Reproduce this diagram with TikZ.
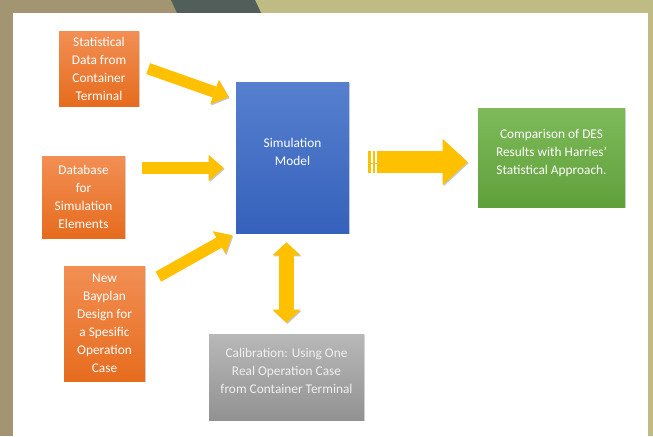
\documentclass[tikz,border=0pt]{standalone}
\usepackage{fontspec}
\setmainfont{Carlito}
\usetikzlibrary{%
  calc,arrows.meta,shadows}
\definecolor{frametan}{RGB}{163,149,113}
\definecolor{frameslate}{RGB}{82,94,90}
\definecolor{framekhaki}{RGB}{191,187,133}
\definecolor{orangetop}{RGB}{242,143,84}
\definecolor{orangebot}{RGB}{230,108,30}
\definecolor{bluetop}{RGB}{86,128,206}
\definecolor{bluebot}{RGB}{54,97,188}
\definecolor{greentop}{RGB}{126,186,90}
\definecolor{greenbot}{RGB}{96,160,58}
\definecolor{graytop}{RGB}{184,184,184}
\definecolor{graybot}{RGB}{146,146,146}
\definecolor{arrowyellow}{RGB}{255,192,0}
\tikzset {
  box/.style={inner sep=2pt,align=center,text=white,
    font=\fontsize{10}{13.5}\selectfont,
    drop shadow={shadow xshift=.8pt,shadow yshift=-1pt,opacity=.3}},
  orangebox/.style={box,top color=orangetop,bottom color=orangebot},
  bluebox/.style={box,top color=bluetop,bottom color=bluebot,
    text depth=8.5pt},
  greenbox/.style={box,top color=greentop,bottom color=greenbot,
    text depth=8.5pt},
  graybox/.style={box,top color=graytop,bottom color=graybot,
    text=white!94!black,text depth=8.5pt},
  arrowshadow/.style={preaction={draw=black!22,
    transform canvas={shift={(.7pt,-.9pt)}}}},
  feed/.style={arrowyellow,line width=8.6pt,arrowshadow,
    -{Triangle[length=11.25pt,width=19.5pt,line width=0pt 0]}},
  both/.style={arrowyellow,line width=11pt,arrowshadow,
    {Triangle[length=9.75pt,width=21pt,line width=0pt 0]}-%
    {Triangle[length=9.75pt,width=21pt,line width=0pt 0]}},
  result/.style={arrowyellow,line width=16.5pt,arrowshadow,
    dash pattern=on 1.9pt off 1.3pt on 2pt off 1.3pt on 200pt off 1pt,
    -{Triangle[length=18.75pt,width=34.5pt,line width=0pt 0]}}}

\begin{document}
\begin{tikzpicture}[x=0.75pt,y=-0.75pt]
\useasboundingbox (0,0) rectangle (653,436);
\fill[frametan] (0,0) rectangle (653,436);
\fill[framekhaki] (255,0) -- (653,0) -- (653,436) -- (648,436)
  -- (648,13) -- (261,13) -- cycle;
\fill[frameslate] (171,0) -- (255,0) -- (261,13) -- (177,13) -- cycle;
\fill[white] (12.5,13) rectangle (648,436);
\node[orangebox,minimum width=60pt,minimum height=56.25pt] (stat)
  at (99,68.5) {Statistical\\Data from\\Container\\Terminal};
\node[orangebox,minimum width=62.25pt,minimum height=61.5pt] (db)
  at (83.5,197) {Database\\for\\Simulation\\Elements};
\node[orangebox,minimum width=60.75pt,minimum height=86.25pt] (bay)
  at (104.5,323.5) {New\\Bayplan\\Design for\\a Spesific\\Operation\\Case};
\node[bluebox,minimum width=84.75pt,minimum height=113.25pt] (sim)
  at (292.5,157.5) {Simulation\\Model};
\node[greenbox,minimum width=110.25pt,minimum height=74.25pt] (cmp)
  at (551.5,157.5)
  {Comparison of DES\\Results with Harries’\\Statistical Approach.};
\node[graybox,minimum width=116.25pt,minimum height=64.5pt] (cal)
  at (286.5,377)
  {Calibration: Using One\\Real Operation Case\\from Container Terminal};
\draw[feed,shorten <=7.1pt,shorten >=5.6pt]
  ($(stat.east)+(0,-3)$) -- ($(sim.west)+(0,-58)$);
\draw[feed,shorten <=12.75pt,shorten >=9pt]
  ($(db.east)+(0,-29)$) -- ($(sim.west)+(0,10.5)$);
\draw[feed,shorten <=11.25pt,shorten >=3pt]
  ($(bay.east)+(0,-39.5)$) -- (sim.south west);
\draw[both,shorten <=6.75pt,shorten >=8.25pt]
  (sim.south -| cal.north) -- (cal.north);
\draw[result,shorten <=14.25pt,shorten >=7.5pt]
  ($(sim.east)+(0,4.5)$) -- ($(cmp.west)+(0,4.5)$);
\end{tikzpicture}
\end{document}
